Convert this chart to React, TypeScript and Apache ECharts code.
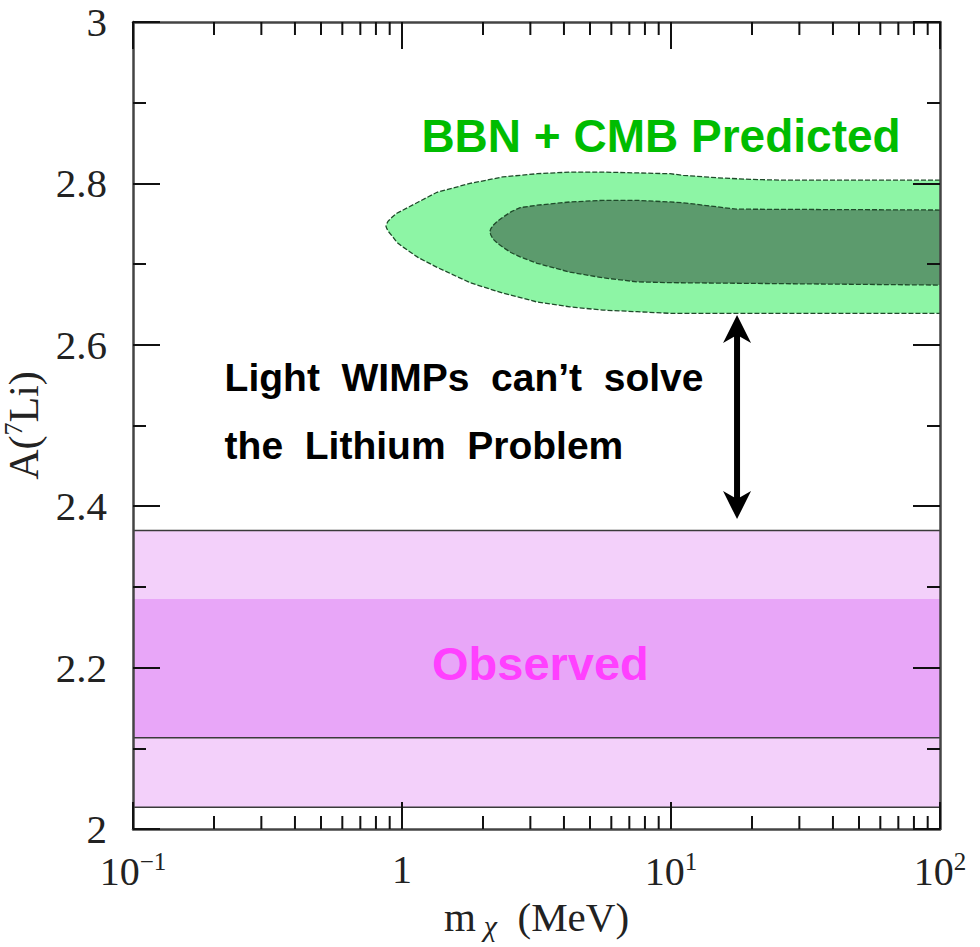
import React, { useEffect, useRef } from 'react';
import * as echarts from 'echarts';

// ---- axis ranges and ticks ----
const xMin = 0.1;
const xMax = 100;
const yMin = 2;
const yMax = 3;
const xMajorTicks = [0.1, 1, 10, 100];
const xMajorBase = ['10', '1', '10', '10'];
const xMajorExp = ['−1', '', '1', '2'];
const xMinorTicks = [0.2, 0.3, 0.4, 0.5, 0.6, 0.7, 0.8, 0.9, 2, 3, 4, 5, 6, 7, 8, 9, 20, 30, 40, 50, 60, 70, 80, 90];

// ---- BBN + CMB predicted contours [m (MeV), A(7Li)] ----
const outerUpper = [
  [0.872, 2.747], [0.878, 2.750], [0.887, 2.753], [0.918, 2.758], [0.957, 2.763], [1.01, 2.767],
  [1.15, 2.777], [1.35, 2.789], [1.79, 2.8], [2.37, 2.808], [3.18, 2.812], [4.21, 2.814],
  [5.59, 2.814], [7.48, 2.813], [9.91, 2.812], [11.1, 2.81], [14.8, 2.807], [19.7, 2.805],
  [26.1, 2.804], [100, 2.804],
];
const outerLower = [
  [0.872, 2.747], [0.878, 2.744], [0.887, 2.741], [0.918, 2.735], [0.957, 2.727], [1.01, 2.721],
  [1.15, 2.708], [1.35, 2.696], [1.79, 2.677], [2.37, 2.664], [3.18, 2.653], [4.21, 2.647],
  [5.59, 2.643], [7.48, 2.641], [9.91, 2.639], [100, 2.639],
];
const innerUpper = [
  [2.12, 2.74], [2.14, 2.744], [2.18, 2.748], [2.26, 2.753], [2.37, 2.758], [2.55, 2.765],
  [2.75, 2.77], [3.18, 2.773], [4.21, 2.777], [5.59, 2.779], [7.48, 2.779], [9.91, 2.777],
  [11.1, 2.776], [14.8, 2.771], [17.5, 2.768], [19.7, 2.768], [100, 2.767],
];
const innerLower = [
  [2.12, 2.74], [2.14, 2.736], [2.18, 2.731], [2.26, 2.726], [2.37, 2.721], [2.55, 2.714],
  [2.75, 2.709], [3.18, 2.701], [4.21, 2.69], [5.59, 2.683], [7.48, 2.678], [9.91, 2.677],
  [100, 2.674],
];

// ---- observed bands ----
const observedOuter = [2.027, 2.37];
const observedInner = [2.113, 2.285];
const observedLines = [2.37, 2.113, 2.027];

// ---- arrow ----
const arrowX = 17.6;
const arrowFrom = 2.384;
const arrowTo = 2.637;

// ---- annotations [x, y] in data coordinates ----
const bbnLabelPos = [9.18, 2.859];
const wimpLine1Pos = [0.219, 2.559];
const wimpLine2Pos = [0.219, 2.4756];
const observedLabelPos = [3.27, 2.2045];

const NB = '\u00a0\u00a0';
const serif = 'Liberation Serif';
const sans = 'Liberation Sans';

export default function App() {
  const ref = useRef<HTMLDivElement>(null);

  useEffect(() => {
    if (!ref.current) return;
    const chart = echarts.init(ref.current, null, { renderer: 'svg' });

    const contour = (upper: number[][], lower: number[][], fill: string, z: number) => ({
      type: 'custom',
      coordinateSystem: 'cartesian2d',
      xAxisIndex: 0,
      yAxisIndex: 0,
      z,
      silent: true,
      data: [[1, 2.5]],
      encode: { x: 0, y: 1 },
      renderItem: (_p: any, api: any) => {
        const poly = upper.concat(lower.slice().reverse()).map((p) => api.coord(p));
        const edge = upper.slice().reverse().concat(lower.slice(1)).map((p) => api.coord(p));
        return {
          type: 'group',
          children: [
            { type: 'polygon', shape: { points: poly }, style: { fill, stroke: 'none' } },
            {
              type: 'polyline',
              shape: { points: edge },
              style: { fill: 'none', stroke: '#1f4a2a', lineWidth: 1.3, lineDash: [5, 2] },
            },
          ],
        };
      },
    });

    const option: any = {
      animation: false,
      backgroundColor: '#ffffff',
      grid: { left: 133, top: 22, right: 40, bottom: 118, containLabel: false, outerBoundsMode: 'none' },
      xAxis: [
        {
          type: 'log',
          logBase: 10,
          min: xMin,
          max: xMax,
          position: 'bottom',
          z: 5,
          axisLine: { show: true, lineStyle: { color: '#444', width: 2.5 } },
          axisTick: { show: true, inside: true, length: 27, lineStyle: { color: '#111', width: 2 } },
          splitLine: { show: false },
          axisLabel: {
            show: true,
            margin: 20,
            formatter: (v: number) => {
              const i = xMajorTicks.findIndex((t) => Math.abs(Math.log10(t) - Math.log10(v)) < 1e-6);
              if (i < 0) return '';
              return xMajorExp[i] ? `{b|${xMajorBase[i]}}{s|${xMajorExp[i]}}` : `{b|${xMajorBase[i]}}`;
            },
            rich: {
              b: { fontFamily: serif, fontSize: 40, color: '#222' },
              s: { fontFamily: serif, fontSize: 25, color: '#222', padding: [0, 0, 20, 0] },
            },
          },
          name: '{a|m}{u|χ}{a|\u00a0\u00a0(MeV)}',
          nameLocation: 'middle',
          nameGap: 62,
          nameTextStyle: {
            rich: {
              a: { fontFamily: serif, fontSize: 41, color: '#222' },
              u: { fontFamily: serif, fontSize: 30, fontStyle: 'italic', color: '#222', padding: [18, 0, 0, 8] },
            },
          },
        },
        {
          type: 'log',
          logBase: 10,
          min: xMin,
          max: xMax,
          position: 'top',
          z: 5,
          axisLine: { show: true, lineStyle: { color: '#444', width: 2.5 } },
          axisTick: { show: true, inside: true, length: 27, lineStyle: { color: '#111', width: 2 } },
          axisLabel: { show: false },
          splitLine: { show: false },
        },
      ],
      yAxis: [
        {
          type: 'value',
          min: yMin,
          max: yMax,
          interval: 0.2,
          position: 'left',
          z: 5,
          axisLine: { show: true, lineStyle: { color: '#444', width: 2.5 } },
          axisTick: { show: true, inside: true, length: 27, lineStyle: { color: '#111', width: 2 } },
          minorTick: { show: true, splitNumber: 2, length: 13, lineStyle: { color: '#111', width: 2 } },
          splitLine: { show: false },
          axisLabel: {
            show: true,
            margin: 26,
            fontFamily: serif,
            fontSize: 41,
            color: '#222',
            formatter: (v: number) =>
              Math.abs(v - 2) < 1e-9 ? '2' : Math.abs(v - 3) < 1e-9 ? '3' : v.toFixed(1),
          },
          name: '{a|A(}{s|7}{a|Li)}',
          nameLocation: 'middle',
          nameRotate: 90,
          nameGap: 70,
          nameTextStyle: {
            rich: {
              a: { fontFamily: serif, fontSize: 42, color: '#222' },
              s: { fontFamily: serif, fontSize: 26, color: '#222', padding: [0, 0, 20, 0] },
            },
          },
        },
        {
          type: 'value',
          min: yMin,
          max: yMax,
          interval: 0.2,
          position: 'right',
          z: 5,
          axisLine: { show: true, lineStyle: { color: '#444', width: 2.5 } },
          axisTick: { show: true, inside: true, length: 27, lineStyle: { color: '#111', width: 2 } },
          minorTick: { show: true, splitNumber: 2, length: 13, lineStyle: { color: '#111', width: 2 } },
          splitLine: { show: false },
          axisLabel: { show: false },
        },
      ],
      series: [
        {
          type: 'custom',
          name: 'Observed',
          coordinateSystem: 'cartesian2d',
          xAxisIndex: 0,
          yAxisIndex: 0,
          z: 1,
          silent: true,
          data: [[1, 2.2]],
          encode: { x: 0, y: 1 },
          renderItem: (_p: any, api: any) => {
            const rect = (lo: number, hi: number, fill: string) => {
              const a = api.coord([xMin, hi]);
              const b = api.coord([xMax, lo]);
              return { type: 'rect', shape: { x: a[0], y: a[1], width: b[0] - a[0], height: b[1] - a[1] }, style: { fill } };
            };
            const lines = observedLines.map((v) => {
              const a = api.coord([xMin, v]);
              const b = api.coord([xMax, v]);
              return { type: 'line', shape: { x1: a[0], y1: a[1], x2: b[0], y2: b[1] }, style: { stroke: '#3a3a3a', lineWidth: 1.5 } };
            });
            return {
              type: 'group',
              children: [
                rect(observedOuter[0], observedOuter[1], '#F3D0FA'),
                rect(observedInner[0], observedInner[1], '#E8A6F8'),
                ...lines,
              ],
            };
          },
        },
        contour(outerUpper, outerLower, '#8DF5A5', 2),
        contour(innerUpper, innerLower, '#5C9B6D', 3),
        {
          type: 'custom',
          name: 'arrow',
          coordinateSystem: 'cartesian2d',
          xAxisIndex: 0,
          yAxisIndex: 0,
          z: 4,
          silent: true,
          data: [[arrowX, arrowFrom]],
          encode: { x: 0, y: 1 },
          renderItem: (_p: any, api: any) => {
            const b = api.coord([arrowX, arrowFrom]);
            const t = api.coord([arrowX, arrowTo]);
            const x = t[0];
            const hl = 28;
            const hw = 14;
            const notch = 20;
            return {
              type: 'group',
              children: [
                { type: 'line', shape: { x1: x, y1: t[1] + notch, x2: x, y2: b[1] - notch }, style: { stroke: '#000', lineWidth: 6 } },
                { type: 'polygon', shape: { points: [[x, t[1]], [x + hw, t[1] + hl], [x, t[1] + notch], [x - hw, t[1] + hl]] }, style: { fill: '#000' } },
                { type: 'polygon', shape: { points: [[x, b[1]], [x + hw, b[1] - hl], [x, b[1] - notch], [x - hw, b[1] - hl]] }, style: { fill: '#000' } },
              ],
            };
          },
        },
        {
          type: 'custom',
          name: 'minor ticks',
          coordinateSystem: 'cartesian2d',
          xAxisIndex: 0,
          yAxisIndex: 0,
          z: 6,
          silent: true,
          data: [[1, 2.5]],
          encode: { x: 0, y: 1 },
          renderItem: (_p: any, api: any) => {
            const children: any[] = [];
            xMinorTicks.forEach((v) => {
              const bot = api.coord([v, yMin]);
              const top = api.coord([v, yMax]);
              children.push({ type: 'line', shape: { x1: bot[0], y1: bot[1], x2: bot[0], y2: bot[1] - 13 }, style: { stroke: '#111', lineWidth: 2 } });
              children.push({ type: 'line', shape: { x1: top[0], y1: top[1], x2: top[0], y2: top[1] + 13 }, style: { stroke: '#111', lineWidth: 2 } });
            });
            return { type: 'group', children };
          },
        },
        {
          type: 'custom',
          name: 'annotations',
          coordinateSystem: 'cartesian2d',
          xAxisIndex: 0,
          yAxisIndex: 0,
          z: 7,
          silent: true,
          data: [[1, 2.5]],
          encode: { x: 0, y: 1 },
          renderItem: (_p: any, api: any) => {
            const p1 = api.coord(bbnLabelPos);
            const p2 = api.coord(wimpLine1Pos);
            const p3 = api.coord(wimpLine2Pos);
            const p4 = api.coord(observedLabelPos);
            return {
              type: 'group',
              children: [
                {
                  type: 'text', x: p1[0], y: p1[1],
                  style: { text: 'BBN + CMB Predicted', fill: '#00BC00', fontFamily: sans, fontWeight: 'bold', fontSize: 46, align: 'center', verticalAlign: 'middle' },
                },
                {
                  type: 'text', x: p2[0], y: p2[1],
                  style: { text: `Light${NB}WIMPs${NB}can’t${NB}solve`, fill: '#000', fontFamily: sans, fontWeight: 'bold', fontSize: 39, align: 'left', verticalAlign: 'middle' },
                },
                {
                  type: 'text', x: p3[0], y: p3[1],
                  style: { text: `the${NB}Lithium${NB}Problem`, fill: '#000', fontFamily: sans, fontWeight: 'bold', fontSize: 39, align: 'left', verticalAlign: 'middle' },
                },
                {
                  type: 'text', x: p4[0], y: p4[1],
                  style: { text: 'Observed', fill: '#FF40FF', fontFamily: sans, fontWeight: 'bold', fontSize: 47, align: 'center', verticalAlign: 'middle' },
                },
              ],
            };
          },
        },
      ],
    };

    chart.setOption(option);
    return () => chart.dispose();
  }, []);

  return (
    <div
      ref={ref}
      style={{ position: 'absolute', left: 0, top: 0, width: 980, height: 947, background: '#fff' }}
    />
  );
}
